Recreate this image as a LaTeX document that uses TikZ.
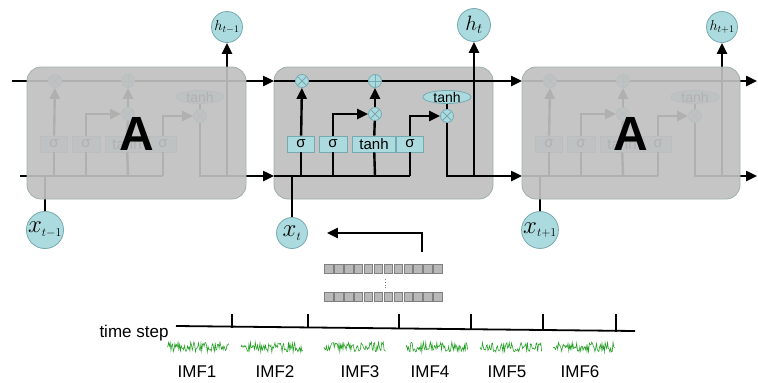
\documentclass[tikz,border=0pt]{standalone}
\usepackage{fontspec}
\setmainfont{Liberation Sans}
\usetikzlibrary{arrows.meta,shapes.geometric}

\definecolor{vecfill}{RGB}{172,219,223}
\definecolor{vecline}{RGB}{118,170,176}
\definecolor{cellgray}{RGB}{192,192,192}
\definecolor{midgray}{RGB}{196,196,196}
\definecolor{cellline}{RGB}{158,176,176}
\definecolor{sqfill}{RGB}{184,184,184}
\definecolor{sqline}{RGB}{128,128,128}
\definecolor{wavegreen}{RGB}{40,160,40}

\tikzset{
	wire/.style={line width=2.4pt},
	flow/.style={wire, -{Triangle[length=11pt,width=10pt]}},
	vec/.style={circle, draw=vecline, fill=vecfill, line width=0.8pt, minimum size=31pt, inner sep=0pt},
	gate/.style={rectangle, draw=vecline, fill=vecfill, line width=0.8pt, minimum height=16pt, inner sep=0pt, font=\fontsize{15}{15}\selectfont},
	opmul/.style={circle, draw=vecline, fill=vecfill, line width=0.8pt, minimum size=13pt, inner sep=0pt,
		path picture={\draw[vecline, line width=0.8pt] (path picture bounding box.north west) -- (path picture bounding box.south east)
			(path picture bounding box.north east) -- (path picture bounding box.south west);}},
	opadd/.style={circle, draw=vecline, fill=vecfill, line width=0.8pt, minimum size=13pt, inner sep=0pt,
		path picture={\draw[vecline, line width=0.8pt] (path picture bounding box.north) -- (path picture bounding box.south)
			(path picture bounding box.east) -- (path picture bounding box.west);}},
	squash/.style={ellipse, draw=vecline, fill=vecfill, line width=0.8pt, minimum width=48pt, minimum height=13pt, inner sep=-3pt, font=\fontsize{14}{14}\selectfont},
	cellbox/.style={rounded corners=14pt, line width=0.8pt},
	sqr/.style={rectangle, minimum size=8.4pt, fill=sqfill, draw=sqline, line width=0.9pt, inner sep=0pt},
	axis/.style={line width=1.8pt},
	wave/.style={wavegreen, line width=0.6pt},
	lab/.style={font=\fontsize{17}{17}\selectfont}
}

% #1 name prefix, #2 left edge of the cell, #3 length of the outgoing lines
\newcommand{\lstmcell}[3]{%
\begin{scope}[shift={(#2,0)}]
	\coordinate (#1ti) at (0,81);
	\coordinate (#1to) at (#3,81);
	\coordinate (#1bi) at (0,176);
	\coordinate (#1xb) at (18,176);
	\coordinate (#1j1) at (27,176);
	\coordinate (#1j2) at (59,176);
	\coordinate (#1j3) at (101,176);
	\coordinate (#1j4) at (136,176);
	\coordinate (#1hb) at (200,176);
	\coordinate (#1out) at (#3,176);
	\node[opmul] (#1fm) at (28,81) {};
	\node[opadd] (#1ad) at (101,81) {};
	\node[opmul] (#1im) at (101,114) {};
	\node[opmul] (#1om) at (173,116) {};
	\node[squash] (#1th) at (173,97) {tanh};
	\node[gate, minimum width=27pt] (#1sf) at (27,144) {σ};
	\node[gate, minimum width=28pt] (#1si) at (59,144) {σ};
	\node[gate, minimum width=43pt] (#1tg) at (100,144) {tanh};
	\node[gate, minimum width=27pt] (#1so) at (136,144) {σ};
	\draw[wire] (#1ti) -- (#1fm);
	\draw[wire] (#1fm) -- (#1ad);
	\draw[flow] (#1ad) -- (#1to);
	\draw[wire] (#1bi) -- (#1j4);
	\draw[wire] (#1j1) -- (#1sf);
	\draw[flow] (#1sf) -- (#1fm);
	\draw[wire] (#1j2) -- (#1si);
	\draw[flow] (#1si) |- (#1im);
	\draw[wire] (#1j3) -- (#1tg);
	\draw[wire] (#1tg) -- (#1im);
	\draw[flow] (#1im) -- (#1ad);
	\draw[wire] (#1j4) -- (#1so);
	\draw[flow] (#1so) |- (#1om);
	\draw[wire, line width=1.2pt] (#1th) -- (#1om);
	\draw[flow] (#1om) |- (#1out);
\end{scope}}

\begin{document}
\begin{tikzpicture}[x=1pt, y=-1pt]
	\useasboundingbox (0,0) rectangle (758,383);
	% middle cell
	\draw[cellbox, fill=midgray, draw=cellline] (274,67) rectangle (493,199);
	\lstmcell{l}{27}{247}
	\lstmcell{m}{274}{248}
	\lstmcell{r}{522}{235}
	\draw[wire] (12,81) -- (lti);
	\draw[wire] (20,176) -- (lbi);
	% inputs and outputs
	\node[vec] (hprev) at (227,27) {\fontsize{14}{14}\selectfont$h_{t-1}$};
	\node[vec, minimum size=33pt] (ht) at (474,25) {\fontsize{20}{20}\selectfont$h_t$};
	\node[vec] (hnext) at (722,27) {\fontsize{14}{14}\selectfont$h_{t+1}$};
	\node[vec] (xprev) at (45,230) {\fontsize{25}{25}\selectfont$x_{\scriptscriptstyle t-1}$};
	\node[vec] (xt) at (292,233) {\fontsize{25}{25}\selectfont$x_{\scriptscriptstyle t}$};
	\node[vec] (xnext) at (540,230) {\fontsize{25}{25}\selectfont$x_{\scriptscriptstyle t+1}$};
	\draw[flow] (lhb) -- (hprev);
	\draw[flow] (mhb) -- (ht);
	\draw[flow] (rhb) -- (hnext);
	\draw[wire] (xprev) -- (lxb);
	\draw[wire] (xt) -- (mxb);
	\draw[wire] (xnext) -- (rxb);
	% the two cells before and after
	\draw[cellbox, fill=cellgray, draw=cellline, fill opacity=0.92] (27,67) rectangle (246,199);
	\draw[cellbox, fill=cellgray, draw=cellline, fill opacity=0.92] (522,67) rectangle (740,199);
	\node[font=\fontsize{48}{48}\selectfont\bfseries] (aprev) at (137,134) {A};
	\node[font=\fontsize{48}{48}\selectfont\bfseries] (anext) at (631,134) {A};
	% IMF matrix
	\foreach \i in {0,...,11} {
		\node[sqr] (ta\i) at ({329+9.9*\i},269) {};
		\node[sqr] (tb\i) at ({329+9.9*\i},297) {};
	}
	\draw[sqline, line width=0.8pt, dotted] (385,279) -- (385,289);
	\coordinate (feed) at (422,252);
	\draw[flow, shorten >=19pt] (feed) |- (xt);
	% time axis
	\coordinate (ax0) at (176,326);
	\coordinate (ax1) at (635,331);
	\draw[axis] (ax0) -- (ax1);
	\foreach \t in {232,308,399,471,543,616}
		\draw[axis] (\t,314) -- (\t,{327+5*(\t-176)/459});
	\node[lab] (tstep) at (134,333) {time step};
	\pgfmathsetseed{5}
	\foreach \s in {167,241,324,406,480,553}
		\draw[wave] (\s,347) \foreach \k in {1,...,78} { -- ({\s+\k*0.79},{347+5*rand}) };
	\node[lab] (imf1) at (197,372) {IMF1};
	\node[lab] (imf2) at (275,372) {IMF2};
	\node[lab] (imf3) at (360,372) {IMF3};
	\node[lab] (imf4) at (430,372) {IMF4};
	\node[lab] (imf5) at (507,372) {IMF5};
	\node[lab] (imf6) at (580,372) {IMF6};
\end{tikzpicture}
\end{document}
